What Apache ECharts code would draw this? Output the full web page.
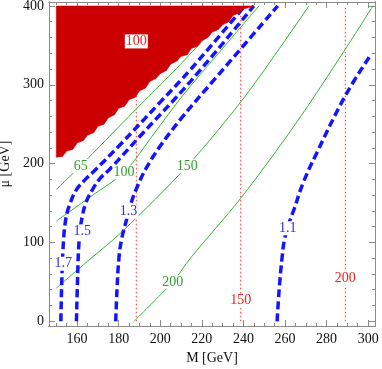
<!DOCTYPE html>
<html>
<head>
<meta charset="utf-8">
<script src="https://cdn.jsdelivr.net/npm/echarts@6/dist/echarts.min.js"></script>
<style>
  html, body { margin: 0; padding: 0; background: #fff; }
  #main { width: 382px; height: 369px; }
</style>
</head>
<body>
<div id="main"></div>
<script>
  var myChart = echarts.init(document.getElementById('main'));

  // axis ticks
  const mTicks = [160, 180, 200, 220, 240, 260, 280, 300];
  const mMinor = [150, 155, 165, 170, 175, 185, 190, 195, 205, 210, 215, 225, 230, 235, 245, 250, 255, 265, 270, 275, 285, 290, 295];
  const muTicks = [0, 100, 200, 300, 400];
  const muMinor = [20, 40, 60, 80, 120, 140, 160, 180, 220, 240, 260, 280, 320, 340, 360, 380];

  // excluded region (red)
  const regionM = [150, 150, 153, 155, 158, 160, 163, 165, 168, 170, 173, 175, 178, 180, 183, 185, 188, 190, 193, 195, 198, 200, 203, 205, 208, 210, 213, 215, 218, 220, 223, 225, 228, 230, 233, 235, 238, 240, 243, 245];
  const regionMu = [400, 208, 209, 216, 218, 226, 229, 236, 239, 247, 250, 258, 262, 270, 273, 281, 284, 292, 296, 304, 308, 314, 318, 326, 330, 336, 338, 346, 349, 356, 360, 367, 370, 376, 380, 388, 391, 396, 398, 400];

  // green contours
  const g65M = [150, 162, 185, 210.5, 235.5];
  const g65Mu = [167, 198, 260, 328, 400];
  const g100M = [150, 167, 183, 197, 211, 229, 247.5];
  const g100Mu = [127, 159, 190, 238, 287, 343, 400];
  const g150M = [150, 165, 181.8, 213, 241, 271.5];
  const g150Mu = [42, 76, 114, 197, 286, 400];
  const g200M = [187.4, 206, 214.8, 238.7, 265, 289, 302.3];
  const g200Mu = [0, 50, 81, 156, 250, 345, 400];

  // blue dashed contours
  const b17M = [152.2, 152.6, 153.2, 154.6, 157, 160, 164, 168, 180, 200, 214.8, 240.3];
  const b17Mu = [0, 45, 90, 130, 152, 168, 180, 190, 222, 278, 320, 399];
  const b15M = [159.7, 160.2, 161, 162.5, 164.5, 167.4, 171, 175.4, 190, 214.8, 245];
  const b15Mu = [0, 50, 103, 133, 152, 167, 181, 192, 234, 305, 400];
  const b13M = [178.6, 179.2, 180.2, 181.5, 183.4, 186, 189, 193, 199.4, 210, 221.9, 256.5];
  const b13Mu = [0, 40, 82, 105, 125, 150, 171, 193, 220, 257, 294, 400];
  const b11M = [256.2, 256.8, 257.5, 258.5, 259.7, 262, 264.5, 268.5, 275, 289, 300.5];
  const b11Mu = [0, 25, 50, 78, 103, 125, 143, 174, 212, 286, 335];

  // red dotted verticals
  const vLineM = [188.5, 238.7, 289];
  const vLineMu = [0, 400];

  // labels
  const greenLabels = ['65', '100', '150', '200'];
  const greenLabelM = [161.8, 182.6, 213, 206];
  const greenLabelMu = [197, 189, 197, 50];
  const blueLabels = ['1.7', '1.5', '1.3', '1.1'];
  const blueLabelM = [153.3, 162.5, 184.7, 261.3];
  const blueLabelMu = [73, 114, 139, 118];
  const redLabels = ['100', '150', '200'];
  const redLabelM = [188.5, 238.7, 289];
  const redLabelMu = [355, 26, 55];

  const FONT = 'Liberation Serif';
  const GREEN = '#33b533';
  const BLUE = '#1414ff';
  const RED = '#ff3030';

  function zip(a, b) { return a.map((v, i) => [v, b[i]]); }

  function xAx(pos, ticks, len, labels) {
    return {
      type: 'value', position: pos, min: 146.5, max: 303.3,
      axisLine: { show: true, onZero: false, lineStyle: { color: '#8a8a8a', width: 1 } },
      axisTick: { show: true, inside: true, length: len, customValues: ticks, lineStyle: { color: '#8a8a8a' } },
      axisLabel: labels ? { customValues: ticks, color: '#111', fontFamily: FONT, fontSize: 14, margin: 6 } : { show: false },
      splitLine: { show: false },
      name: labels ? 'M [GeV]' : '', nameLocation: 'middle', nameGap: 24,
      nameTextStyle: { fontFamily: FONT, fontSize: 14, color: '#111' }
    };
  }
  function yAx(pos, ticks, len, labels) {
    return {
      type: 'value', position: pos, min: -6, max: 405,
      axisLine: { show: true, onZero: false, lineStyle: { color: '#8a8a8a', width: 1 } },
      axisTick: { show: true, inside: true, length: len, customValues: ticks, lineStyle: { color: '#8a8a8a' } },
      axisLabel: labels ? { customValues: ticks, color: '#111', fontFamily: FONT, fontSize: 14, margin: 5 } : { show: false },
      splitLine: { show: false },
      name: labels ? 'μ [GeV]' : '', nameLocation: 'middle', nameGap: 36, nameRotate: 90,
      nameTextStyle: { fontFamily: FONT, fontSize: 14, color: '#111' }
    };
  }

  function greenLine(m, mu) {
    return { type: 'line', data: zip(m, mu), showSymbol: false, smooth: 0.3, z: 2,
      lineStyle: { color: GREEN, width: 1 }, silent: true };
  }
  function blueLine(m, mu) {
    return { type: 'line', data: zip(m, mu), showSymbol: false, smooth: 0.4, z: 3,
      lineStyle: { color: BLUE, width: 3.5, type: [8, 4] }, silent: true };
  }
  // text labels drawn at data positions, white box breaks the line below
  function labelSeries(txt, m, mu, color) {
    return { type: 'custom', z: 6, silent: true,
      data: txt.map((t, i) => [m[i], mu[i], i]),
      renderItem: function (params, api) {
        var p = api.coord([api.value(0), api.value(1)]);
        return { type: 'text', x: p[0], y: p[1],
          style: { text: txt[api.value(2)], fill: color, font: '14px "' + FONT + '"',
            align: 'center', verticalAlign: 'middle', backgroundColor: '#fff', padding: [0, 1] } };
      } };
  }

  var series = [];
  vLineM.forEach(function (m) {
    series.push({ type: 'line', data: vLineMu.map(u => [m, u]), showSymbol: false, z: 1, silent: true,
      lineStyle: { color: RED, width: 1, type: [1.5, 2.5] } });
  });
  series.push(greenLine(g65M, g65Mu), greenLine(g100M, g100Mu), greenLine(g150M, g150Mu), greenLine(g200M, g200Mu));
  series.push(blueLine(b17M, b17Mu), blueLine(b15M, b15Mu), blueLine(b13M, b13Mu), blueLine(b11M, b11Mu));
  series.push({
    type: 'custom', z: 4, silent: true, data: [0],
    renderItem: function (params, api) {
      var pts = regionM.map((m, i) => api.coord([m, regionMu[i]]));
      return { type: 'polygon', shape: { points: pts }, style: { fill: '#cc0000', stroke: '#cc0000', lineWidth: 0.5 } };
    }
  });
  series.push(labelSeries(greenLabels, greenLabelM, greenLabelMu, '#2ea02e'));
  series.push(labelSeries(blueLabels, blueLabelM, blueLabelMu, '#3030d0'));
  series.push(labelSeries(redLabels, redLabelM, redLabelMu, '#ee2020'));

  var option = {
    animation: false,
    grid: { left: 49, right: 7, top: 2, bottom: 43, outerBoundsMode: 'none' },
    xAxis: [
      xAx('bottom', mTicks, 6, true), xAx('bottom', mMinor, 3, false),
      xAx('top', mTicks, 6, false), xAx('top', mMinor, 3, false)
    ],
    yAxis: [
      yAx('left', muTicks, 6, true), yAx('left', muMinor, 3, false),
      yAx('right', muTicks, 6, false), yAx('right', muMinor, 3, false)
    ],
    series: series
  };

  myChart.setOption(option);
</script>
</body>
</html>
